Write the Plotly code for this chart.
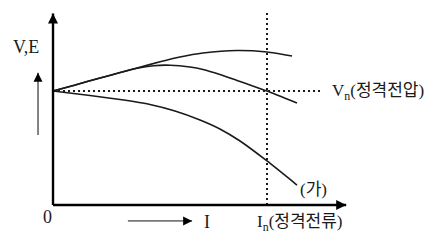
import plotly.graph_objects as go

# Data in normalized units: I / In (x) and V / Vn (y)
top_I = [0.0, 0.100, 0.220, 0.310, 0.393, 0.500, 0.593, 0.701, 0.860, 1.0, 1.117]
top_V = [1.0, 1.051, 1.114, 1.160, 1.202, 1.256, 1.298, 1.333, 1.355, 1.342, 1.307]

mid_I = [0.0, 0.100, 0.220, 0.310, 0.393, 0.470, 0.547, 0.640, 0.701, 0.780, 0.860, 0.930, 1.0, 1.140]
mid_V = [1.0, 1.051, 1.114, 1.160, 1.200, 1.222, 1.226, 1.210, 1.188, 1.144, 1.092, 1.047, 1.0, 0.895]

bot_I = [0.0, 0.173, 0.313, 0.453, 0.570, 0.687, 0.780, 0.874, 1.0, 1.140]
bot_V = [1.0, 0.961, 0.925, 0.882, 0.825, 0.746, 0.667, 0.561, 0.386, 0.175]

rated_I = 1.0
rated_V = 1.0

label_vn = "V<sub>n</sub>(정격전압)"
label_in = "I<sub>n</sub>(정격전류)"
label_ga = "(가)"
label_ve = "V,E"
label_i = "I"
label_0 = "0"

FONT = "Liberation Serif, Noto Sans CJK KR, serif"
INK = "#1a1a1a"

fig = go.Figure()
for xs, ys in [(top_I, top_V), (mid_I, mid_V), (bot_I, bot_V)]:
    fig.add_trace(go.Scatter(x=xs, y=ys, mode="lines",
                             line=dict(color=INK, width=1.6, shape="spline", smoothing=0.6),
                             hoverinfo="skip", showlegend=False))

# dotted rated lines
fig.add_trace(go.Scatter(x=[0, 1.248], y=[rated_V, rated_V], mode="lines",
                         line=dict(color=INK, width=2, dash="2px,3px"), showlegend=False, hoverinfo="skip"))
fig.add_trace(go.Scatter(x=[rated_I, rated_I], y=[0, 1.693], mode="lines",
                         line=dict(color=INK, width=2, dash="2px,3px"), showlegend=False, hoverinfo="skip"))


def arrow(xs, ys, symbol, color="black", width=2.4, head=10, head_color="black"):
    fig.add_trace(go.Scatter(x=xs, y=ys, mode="lines", line=dict(color=color, width=width),
                             showlegend=False, hoverinfo="skip"))
    fig.add_trace(go.Scatter(x=[xs[-1]], y=[ys[-1]], mode="markers",
                             marker=dict(symbol=symbol, size=head, color=head_color, line=dict(width=0)),
                             showlegend=False, hoverinfo="skip"))


# axes
arrow([0, 0], [0, 1.68], "arrow-up", head=10)
arrow([0, 1.37], [0, 0], "arrow-right", head=10)
# helper arrows
arrow([-0.070, -0.070], [0.614, 1.16], "arrow-up", color="#777777", width=1.8, head=9)
arrow([0.350, 0.650], [-0.140, -0.140], "arrow-right", color="#777777", width=1.8, head=9)

anns = []


def text(t, x, y, anchor="center", size=17):
    anns.append(dict(x=x, y=y, xref="x", yref="y", text=t, showarrow=False, xanchor=anchor,
                     yanchor="middle", font=dict(family=FONT, size=size, color=INK)))


text(label_ve, -0.128, 1.386, size=18)
text(label_0, -0.028, -0.105, size=18)
text(label_i, 0.696, -0.145, anchor="left", size=18)
text(label_in, 0.944, -0.160, anchor="left")
text(label_vn, 1.294, 0.991, anchor="left")
text(label_ga, 1.145, 0.132, anchor="left")

fig.update_layout(
    width=441, height=241, margin=dict(l=0, r=0, t=0, b=0),
    paper_bgcolor="white", plot_bgcolor="white",
    xaxis=dict(range=[-0.2477, 1.8131], visible=False, fixedrange=True),
    yaxis=dict(range=[-0.3158, 1.7982], visible=False, fixedrange=True),
    annotations=anns, showlegend=False,
)
fig.write_html("out.html")
